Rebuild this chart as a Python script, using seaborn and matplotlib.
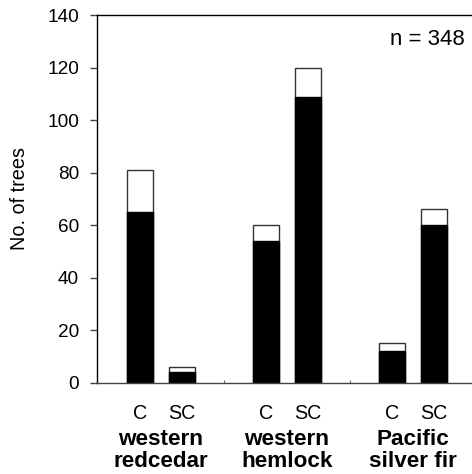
import matplotlib
matplotlib.use("Agg")
import matplotlib.pyplot as plt
import seaborn as sns
import pandas as pd
import numpy as np

species = ["western\nredcedar", "western\nhemlock", "Pacific\nsilver fir"]
classes = ["C", "SC"]
bar_pos = [0, 1, 3, 4, 6, 7]
totals = [81, 6, 60, 120, 15, 66]
black_part = [65, 4, 54, 109, 12, 60]
n_label = "n = 348"

sns.set_theme(style="white")
plt.rcParams["font.family"] = ["Liberation Sans", "DejaVu Sans"]
plt.rcParams["text.color"] = "black"
plt.rcParams["axes.labelcolor"] = "black"
plt.rcParams["xtick.labelcolor"] = "black"
plt.rcParams["ytick.labelcolor"] = "black"

df = pd.DataFrame({"pos": bar_pos, "total": totals, "black": black_part})

fig = plt.figure(figsize=(4.72, 4.74), dpi=100)
ax = fig.add_axes([97/472, (474-382.7)/474, (472-97)/472, (382.7-15.3)/474])

sns.barplot(data=df, x="pos", y="total", native_scale=True, width=0.62,
            color="white", edgecolor="#333333", linewidth=1.0, saturation=1,
            errorbar=None, ax=ax)
sns.barplot(data=df, x="pos", y="black", native_scale=True, width=0.62,
            color="black", edgecolor="black", linewidth=1.0, saturation=1,
            errorbar=None, ax=ax)

ax.set_xlim(-1.02, 7.91)
ax.set_ylim(0, 140)
ax.set_yticks(np.arange(0, 141, 20))
ax.tick_params(axis="y", direction="out", length=5, width=1, pad=8,
               labelsize=13.7, color="#444444", left=True, labelcolor="black")
ticklabels = []
for i in range(8):
    if i in bar_pos:
        ticklabels.append(classes[bar_pos.index(i) % 2])
    else:
        ticklabels.append("")
ax.set_xticks(range(8))
ax.set_xticklabels(ticklabels)
ax.tick_params(axis="x", direction="in", length=2, width=0.8, pad=15,
               labelsize=14.2, color="#666666", bottom=True, labelcolor="black")
ax.set_xlabel("")
ax.set_ylabel("No. of trees", fontsize=14.3, labelpad=13, color="black")

for s in ["left", "top", "bottom"]:
    ax.spines[s].set_visible(True)
    ax.spines[s].set_color("black")
    ax.spines[s].set_linewidth(1.0)
ax.spines["right"].set_visible(False)
ax.spines["bottom"].set_color("#444444")

for g, name in enumerate(species):
    cx = (bar_pos[2*g] + bar_pos[2*g+1]) / 2
    ax.text(cx, -0.184, name, transform=ax.get_xaxis_transform(),
            ha="center", va="center", fontsize=16.2, fontweight="bold",
            linespacing=1.08, color="black")

ax.text(0.981, 0.933, n_label, transform=ax.transAxes, ha="right", va="center",
        fontsize=16, color="black")

fig.savefig("out.png", dpi=100)
